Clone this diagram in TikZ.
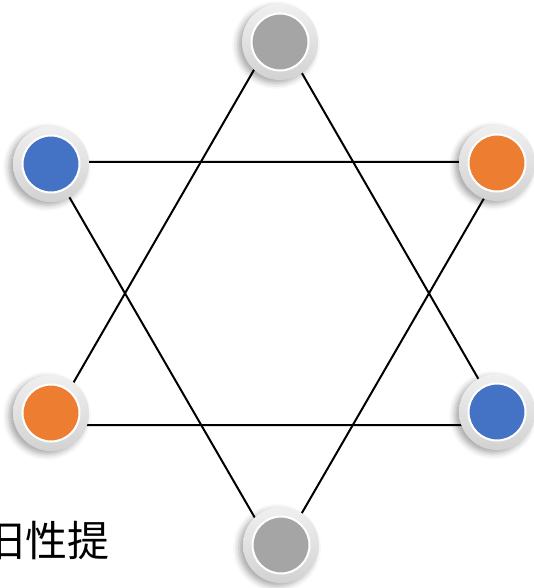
\documentclass[tikz,border=0pt]{standalone}
\usepackage{fontspec}
\newfontfamily\cjkfont{Noto Sans CJK SC}
\usepackage{xcolor}
\usetikzlibrary{shadows.blur}
\definecolor{dotgray}{HTML}{A5A5A5}
\definecolor{dotblue}{HTML}{4472C4}
\definecolor{dotorange}{HTML}{ED7D31}
\definecolor{ringlight}{HTML}{F0F0F0}
\definecolor{ringdark}{HTML}{D2D2D2}

\begin{document}
\begin{tikzpicture}[x=1pt, y=-1pt,
    ring/.style={circle, minimum size=76pt, inner sep=0pt,
                 top color=ringlight, bottom color=ringdark,
                 blur shadow={shadow xshift=-4pt, shadow yshift=-3pt,
                              shadow blur radius=6pt, shadow opacity=35}},
    dot/.style={circle, minimum size=57pt, inner sep=0pt, fill=#1,
                draw=white, line width=2pt},
    starline/.style={draw=black, line width=2pt}]
  \useasboundingbox (0,0) rectangle (534,588);
  % corners of the two triangles
  \coordinate (up-top) at (277,30);
  \coordinate (up-left) at (49,425);
  \coordinate (up-right) at (505,425);
  \coordinate (dn-left) at (49,162);
  \coordinate (dn-right) at (505,162);
  \coordinate (dn-bottom) at (277,556);
  \draw[starline] (up-top) -- (up-left) -- (up-right) -- cycle;
  \draw[starline] (dn-left) -- (dn-right) -- (dn-bottom) -- cycle;
  % dots on the corners
  \foreach \name/\x/\y/\col in {top/280/42/dotgray, topleft/51/164/dotblue,
      topright/497/163/dotorange, botleft/51/413/dotorange,
      botright/497/412/dotblue, bottom/281/545/dotgray} {
    \node[ring] (ring-\name) at (\x,\y) {};
    \node[dot=\col] (dot-\name) at (ring-\name) {};
  }
  \node[anchor=west, inner sep=0pt, font=\cjkfont\fontsize{42}{42}\selectfont]
    (caption) at (-17,541) {旧性提};
\end{tikzpicture}
\end{document}
